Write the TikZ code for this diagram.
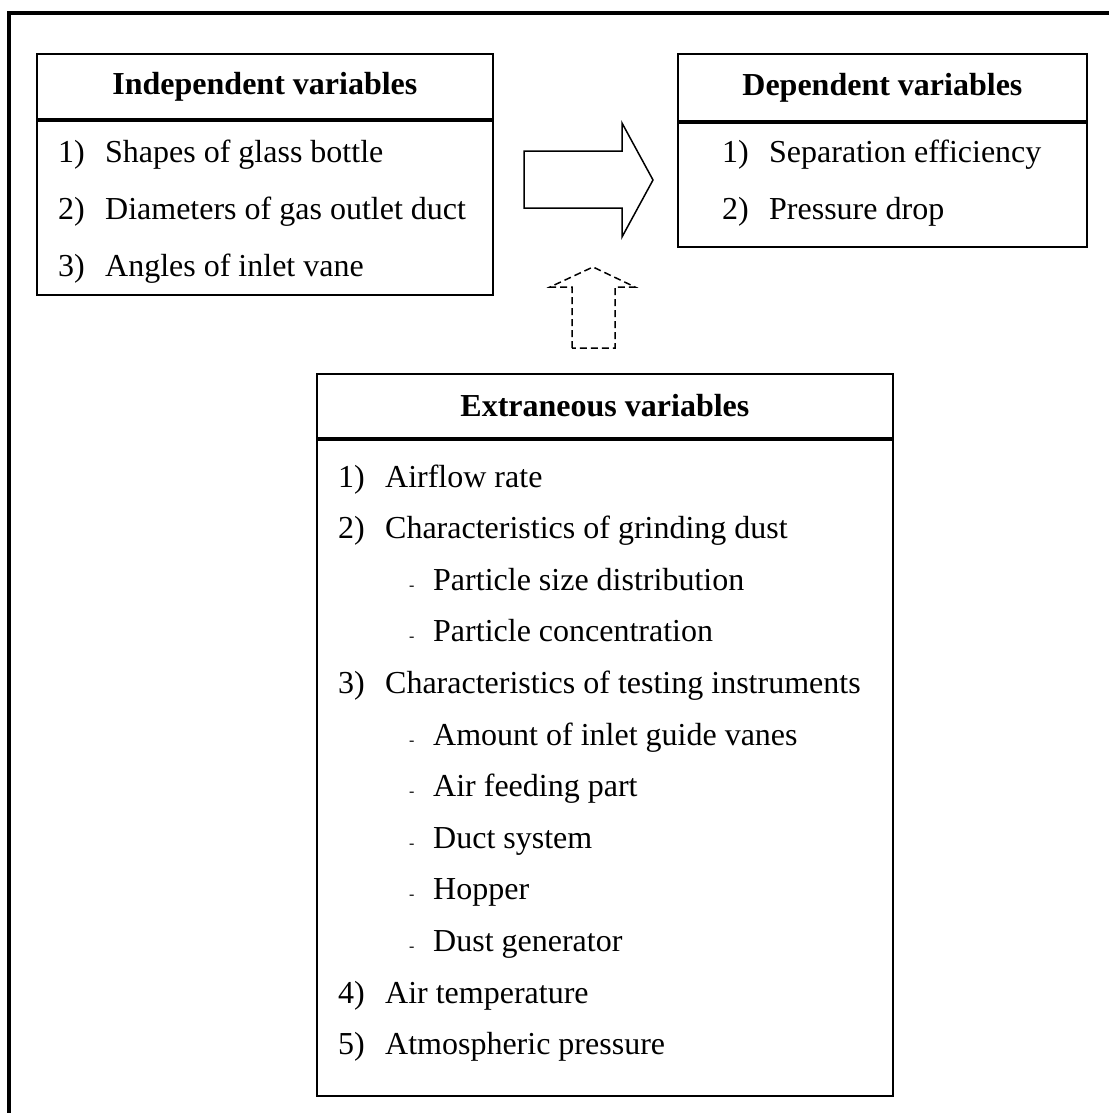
\documentclass[tikz,border=0pt]{standalone}
\usepackage{fontspec}
\setmainfont{Liberation Serif}
\usetikzlibrary{positioning}

\begin{document}
\begin{tikzpicture}[x=1pt, y=-1pt,
  font=\fontsize{32}{38}\selectfont,
  head/.style={draw, line width=1.8pt, inner sep=0pt,
    font=\fontsize{32}{38}\selectfont\bfseries},
  body/.style={draw, line width=1.8pt, inner sep=0pt},
  item/.style={anchor=base west, inner sep=0pt},
  blockarrow/.style={draw, line width=1.5pt, line join=miter},
  dasharrow/.style={draw, line width=1.5pt, dash pattern=on 7pt off 4pt}
]
\useasboundingbox (0,0) rectangle (1108,1113);

% outer frame (runs off the page right and bottom)
\draw[line width=3.5pt] (1130,13) -- (9,13) -- (9,1130);

% independent variables
\node[head, minimum width=456pt, minimum height=65pt, anchor=north west] (ivhead) at (36,53) {Independent variables};
\node[body, minimum width=456pt, minimum height=174pt, below=0pt of ivhead] (ivbody) {};
\foreach \txt [count=\i] in {Shapes of glass bottle, Diameters of gas outlet duct, Angles of inlet vane}
  \node[item] (iv\i) at (58,{162+57*(\i-1)}) {\makebox[47pt][l]{\i)}\txt};

% dependent variables
\node[head, minimum width=409pt, minimum height=67pt, anchor=north west] (dvhead) at (677,53) {Dependent variables};
\node[body, minimum width=409pt, minimum height=124pt, below=0pt of dvhead] (dvbody) {};
\foreach \txt [count=\i] in {Separation efficiency, Pressure drop}
  \node[item] (dv\i) at (722,{162+57*(\i-1)}) {\makebox[47pt][l]{\i)}\txt};

% extraneous variables
\node[head, minimum width=576pt, minimum height=64pt, anchor=north west] (evhead) at (316,373) {Extraneous variables};
\node[body, minimum width=576pt, minimum height=656pt, below=0pt of evhead] (evbody) {};
\foreach \n/\txt/\r in {1)/Airflow rate/0, 2)/Characteristics of grinding dust/1,
    3)/Characteristics of testing instruments/4, 4)/Air temperature/10, 5)/Atmospheric pressure/11}
  \node[item] (ev\r) at (338,{487+51.6*\r}) {\makebox[47pt][l]{\n}\txt};
\foreach \txt/\r in {Particle size distribution/2, Particle concentration/3,
    Amount of inlet guide vanes/5, Air feeding part/6, Duct system/7, Hopper/8, Dust generator/9}
  \node[item] (ev\r) at (409,{487+51.6*\r}) {\makebox[24pt][l]{\fontsize{16}{16}\selectfont-}\txt};

% block arrows
\path[blockarrow] (524,151) -- (622,151) -- (622,123) -- (653,180) -- (622,237) -- (622,208) -- (524,208) -- cycle;
\path[dasharrow] (572,348) -- (572,287) -- (550,287) -- (593,267) -- (635,287) -- (615,287) -- (615,348) -- cycle;

\end{tikzpicture}
\end{document}
